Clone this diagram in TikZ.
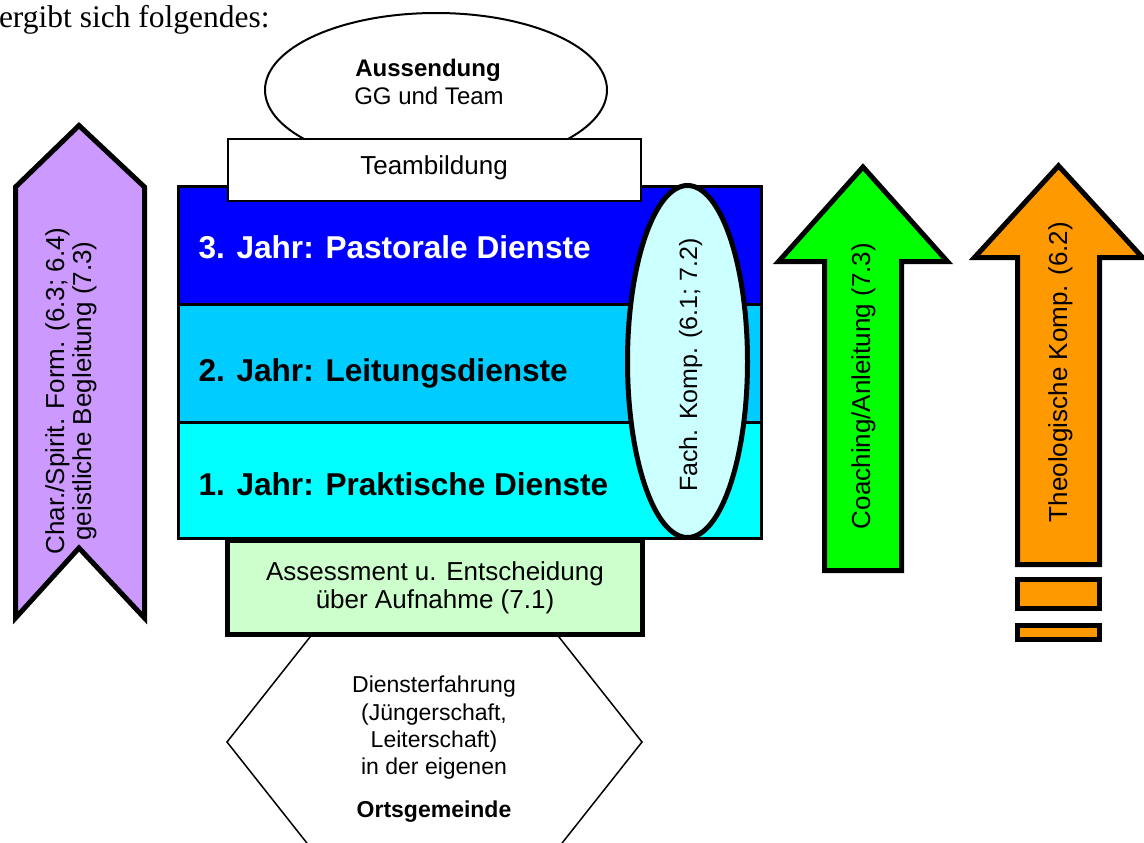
\documentclass[tikz,border=0pt]{standalone}
\usepackage{fontspec}
\setmainfont{Liberation Sans}
\newfontfamily\serifrm{Liberation Serif}
\definecolor{dblue}{HTML}{0000FF}
\definecolor{mblue}{HTML}{00CCFF}
\definecolor{lcyan}{HTML}{00FFFF}
\definecolor{pale}{HTML}{CCFFFF}
\definecolor{palegreen}{HTML}{CCFFCC}
\definecolor{lilac}{HTML}{CC99FF}
\definecolor{lime}{HTML}{00FF00}
\definecolor{orng}{HTML}{FF9900}
\tikzset{
  txt/.style={inner sep=0pt, outer sep=0pt},
  f26/.style={font=\fontsize{26}{30}\selectfont},
  f25/.style={font=\fontsize{25}{29}\selectfont},
  f24/.style={font=\fontsize{24}{28}\selectfont},
  f24b/.style={font=\bfseries\fontsize{24}{28}\selectfont},
  f23/.style={font=\fontsize{23}{27}\selectfont},
  f23b/.style={font=\bfseries\fontsize{23}{27}\selectfont},
  rowtxt/.style={txt, anchor=base west, font=\bfseries\fontsize{31.6}{36}\selectfont},
  heavy/.style={draw=black, line width=5pt, line join=miter},
  medium/.style={draw=black, line width=3pt, line join=miter},
  thin/.style={draw=black, line width=1.5pt, line join=miter},
}
\begin{document}
\begin{tikzpicture}[x=1pt,y=-1pt]
\useasboundingbox (0,0) rectangle (1144,843);

% title line
\node[txt, anchor=base west, font=\serifrm\fontsize{31.5}{36}\selectfont] (title) at (-1,28) {ergibt sich folgendes:};

% Aussendung ellipse
\draw[line width=2pt, fill=white] (436,90) ellipse [x radius=171, y radius=77];
\node[txt, anchor=base, f24b] (aus1) at (428,77) {Aussendung};
\node[txt, anchor=base, f24] (aus2) at (429,105) {GG und Team};

% year rows
\path[medium, fill=dblue] (178.5,186.5) rectangle (761.5,304);
\path[medium, fill=mblue] (178.5,304) rectangle (761.5,422);
\path[medium, fill=lcyan] (178.5,422) rectangle (761.5,538.5);
\node[rowtxt, text=white] (y3) at (198.5,258) {3. Jahr: Pastorale Dienste};
\node[rowtxt] (y2) at (198.5,381) {2. Jahr: Leitungsdienste};
\node[rowtxt] (y1) at (198.5,495) {1. Jahr: Praktische Dienste};

% Teambildung
\path[thin, fill=white] (228,139) rectangle (641,201);
\node[txt, anchor=base, f26] (team) at (434,174) {Teambildung};

% Fach. Komp. ellipse
\path[heavy, fill=pale] (687.5,361.5) ellipse [x radius=60, y radius=176];
\node[txt, anchor=base, f25, rotate=90] (fach) at (697,365) {Fach. Komp. (6.1; 7.2)};

% hexagon
\path[thin, fill=white] (314,632) -- (555,632) -- (642,742) -- (555,852) -- (314,852) -- (227,742) -- cycle;
\node[txt, anchor=base, f23] (h1) at (434,692) {Diensterfahrung};
\node[txt, anchor=base, f23] (h2) at (434,720) {(Jüngerschaft,};
\node[txt, anchor=base, f23] (h3) at (434,747) {Leiterschaft)};
\node[txt, anchor=base, f23] (h4) at (434,774) {in der eigenen};
\node[txt, anchor=base, f23b] (h5) at (434,817) {Ortsgemeinde};

% Assessment box
\path[heavy, fill=palegreen] (227.5,540.5) rectangle (642.5,634.5);
\node[txt, anchor=base, f26] (as1) at (435,580) {Assessment u. Entscheidung};
\node[txt, anchor=base, f26] (as2) at (435,608) {über Aufnahme (7.1)};

% left chevron
\path[heavy, fill=lilac] (79,125.5) -- (144.5,187) -- (144.5,618) -- (79,548) -- (15.5,618) -- (15.5,187) -- cycle;
\node[txt, anchor=base, f26, rotate=90] (ch1) at (64,391) {Char./Spirit. Form. (6.3; 6.4)};
\node[txt, anchor=base, f26, rotate=90] (ch2) at (91,391) {geistliche Begleitung (7.3)};

% green arrow
\path[heavy, fill=lime] (863,167) -- (947.4,261.5) -- (901.5,261.5) -- (901.5,570.5) -- (824.5,570.5) -- (824.5,261.5) -- (778.6,261.5) -- cycle;
\node[txt, anchor=base, f26, rotate=90] (coach) at (870,386) {Coaching/Anleitung (7.3)};

% orange arrow with bars
\path[heavy, fill=orng] (1058.5,165.8) -- (1142.5,257.5) -- (1099.5,257.5) -- (1099.5,564.5) -- (1017.5,564.5) -- (1017.5,257.5) -- (974.5,257.5) -- cycle;
\node[txt, anchor=base, f26, rotate=90] (theo) at (1067,372) {Theologische Komp. (6.2)};
\path[heavy, fill=orng] (1017.5,579.5) rectangle (1099.5,608.5);
\path[heavy, fill=orng] (1017.5,625.5) rectangle (1099.5,639.5);
\end{tikzpicture}
\end{document}
